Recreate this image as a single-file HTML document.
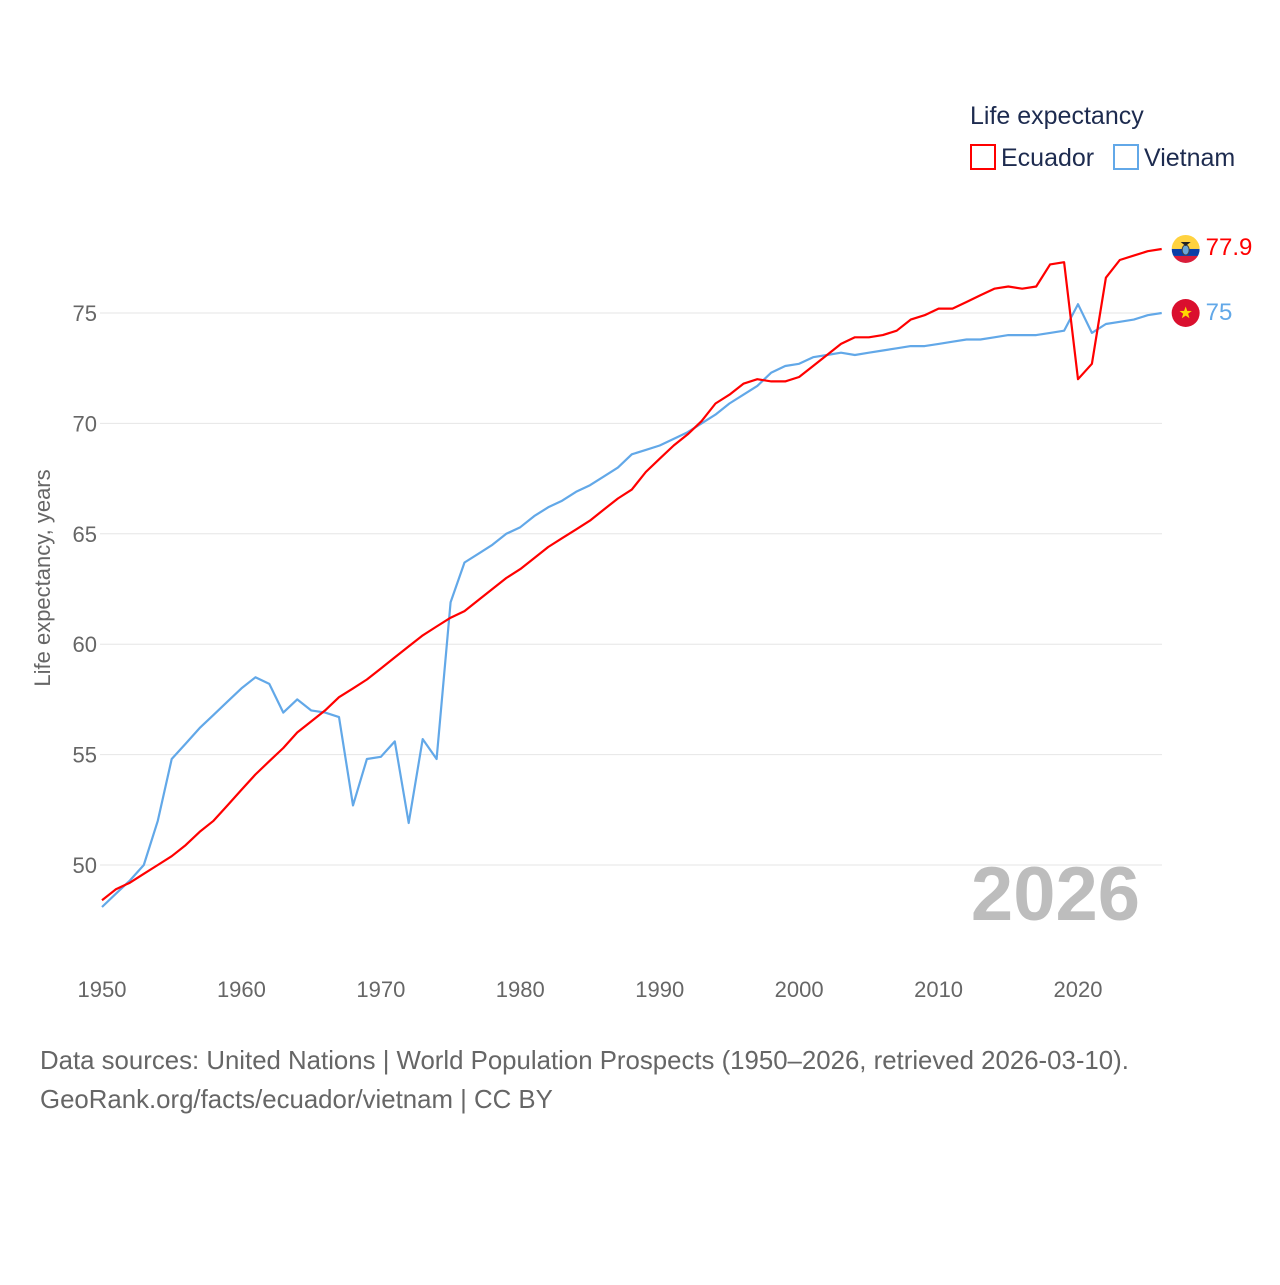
<!DOCTYPE html>
<html><head><meta charset="utf-8"><style>
body{margin:0;background:#fff;font-family:"Liberation Sans",sans-serif;}
svg text{font-family:"Liberation Sans",sans-serif;}
</style></head><body>
<svg width="1280" height="1280" viewBox="0 0 1280 1280">
<g id="grid"></g>
<g id="yticks"></g>
<g id="xticks"></g>
<text x="50" y="578" transform="rotate(-90 50 578)" text-anchor="middle" font-size="22" fill="#666">Life expectancy, years</text>
<text x="1140" y="920" text-anchor="end" font-size="76" font-weight="bold" fill="#bdbdbd">2026</text>
<g id="lines"></g>
<g>
<text x="970" y="124" font-size="25" fill="#1d2b4f">Life expectancy</text>
<g><rect x="971" y="145" width="24" height="24" fill="none" stroke="#ff0000" stroke-width="2"/><text x="1001" y="166" font-size="25" fill="#1d2b4f">Ecuador</text></g>
<g><rect x="1114" y="145" width="24" height="24" fill="none" stroke="#62a8e8" stroke-width="2"/><text x="1144" y="166" font-size="25" fill="#1d2b4f">Vietnam</text></g>
</g>
<g id="ends"></g>
<text x="40" y="1069" font-size="25.8" fill="#666">Data sources: United Nations | World Population Prospects (1950–2026, retrieved 2026-03-10).</text>
<text x="40" y="1108" font-size="25.8" fill="#666">GeoRank.org/facts/ecuador/vietnam | CC BY</text>
</svg>
<script>
const years=[];for(let y=1950;y<=2026;y++)years.push(y);
const ecuador=[48.4,48.9,49.2,49.6,50.0,50.4,50.9,51.5,52.0,52.7,53.4,54.1,54.7,55.3,56.0,56.5,57.0,57.6,58.0,58.4,58.9,59.4,59.9,60.4,60.8,61.2,61.5,62.0,62.5,63.0,63.4,63.9,64.4,64.8,65.2,65.6,66.1,66.6,67.0,67.8,68.4,69.0,69.5,70.1,70.9,71.3,71.8,72.0,71.9,71.9,72.1,72.6,73.1,73.6,73.9,73.9,74.0,74.2,74.7,74.9,75.2,75.2,75.5,75.8,76.1,76.2,76.1,76.2,77.2,77.3,72.0,72.7,76.6,77.4,77.6,77.8,77.9];
const vietnam=[48.1,48.7,49.3,50.0,52.0,54.8,55.5,56.2,56.8,57.4,58.0,58.5,58.2,56.9,57.5,57.0,56.9,56.7,52.7,54.8,54.9,55.6,51.9,55.7,54.8,61.9,63.7,64.1,64.5,65.0,65.3,65.8,66.2,66.5,66.9,67.2,67.6,68.0,68.6,68.8,69.0,69.3,69.6,70.0,70.4,70.9,71.3,71.7,72.3,72.6,72.7,73.0,73.1,73.2,73.1,73.2,73.3,73.4,73.5,73.5,73.6,73.7,73.8,73.8,73.9,74.0,74.0,74.0,74.1,74.2,75.4,74.1,74.5,74.6,74.7,74.9,75.0];
const yTicks=[50,55,60,65,70,75];
const xTicks=[1950,1960,1970,1980,1990,2000,2010,2020];
const NS="http://www.w3.org/2000/svg";
const X=y=>102+(y-1950)*(1078-102)/70;
const Y=v=>865-(v-50)*(552/25);
function mk(t,a,p){const e=document.createElementNS(NS,t);for(const k in a)e.setAttribute(k,a[k]);p.appendChild(e);return e;}
const grid=document.getElementById('grid'),yt=document.getElementById('yticks'),xt=document.getElementById('xticks');
yTicks.forEach(v=>{
 const l=mk('line',{x1:100,x2:1162,y1:Y(v),y2:Y(v),stroke:'#e6e6e6','stroke-width':1},grid);
 
 
 const t=mk('text',{x:97,y:Y(v)+8,'text-anchor':'end','font-size':22,fill:'#666'},yt);t.textContent=v;
 
 
});
xTicks.forEach(v=>{
 const t=mk('text',{x:X(v),y:997,'text-anchor':'middle','font-size':22,fill:'#666'},xt);t.textContent=v;
 
 
});
const lines=document.getElementById('lines');
function line(data,color,name){
 const d=data.map((v,i)=>(i?'L':'M')+X(years[i]).toFixed(1)+' '+Y(v).toFixed(1)).join(' ');
 const p=mk('path',{d:d,fill:'none',stroke:color,'stroke-width':2.2,'stroke-linejoin':'round'},lines);
 
 
}
line(vietnam,'#62a8e8','vietnam-line');
line(ecuador,'#ff0000','ecuador-line');
const ends=document.getElementById('ends');
const ex=X(2026);
const ey=Y(ecuador[ecuador.length-1]);
const g1=mk('g',{},ends);


const clip=mk('clipPath',{id:'c1'},g1);
mk('circle',{cx:ex+24,cy:ey,r:14},clip);
const gg=mk('g',{'clip-path':'url(#c1)'},g1);
mk('rect',{x:ex+10,y:ey-14,width:28,height:14,fill:'#ffd23f'},gg);
mk('rect',{x:ex+10,y:ey,width:28,height:7,fill:'#0a3fa8'},gg);
mk('rect',{x:ex+10,y:ey+7,width:28,height:7,fill:'#d91d3a'},gg);
mk('ellipse',{cx:ex+24,cy:ey+1,rx:3.5,ry:5,fill:'#6aa7d8',stroke:'#444','stroke-width':1},gg);
mk('path',{d:`M${ex+19} ${ey-7} L${ex+29} ${ey-7} L${ex+24} ${ey-3} Z`,fill:'#222'},gg);
const t1=mk('text',{x:ex+44,y:ey+6,'font-size':24,fill:'#ff0000'},ends);t1.textContent=ecuador[ecuador.length-1].toFixed(1);


const vy=Y(vietnam[vietnam.length-1]);
const g2=mk('g',{},ends);


mk('circle',{cx:ex+24,cy:vy,r:14,fill:'#da0f2e'},g2);
const pts=[];for(let i=0;i<10;i++){const r=i%2?2.6:6.5,a=-Math.PI/2+i*Math.PI/5;pts.push((ex+24+r*Math.cos(a)).toFixed(1)+','+(vy+r*Math.sin(a)).toFixed(1));}
mk('polygon',{points:pts.join(' '),fill:'#ffd800'},g2);
const t2=mk('text',{x:ex+44,y:vy+7,'font-size':24,fill:'#62a8e8'},ends);t2.textContent=Math.round(vietnam[vietnam.length-1]*10)/10;


</script>
</body></html>
